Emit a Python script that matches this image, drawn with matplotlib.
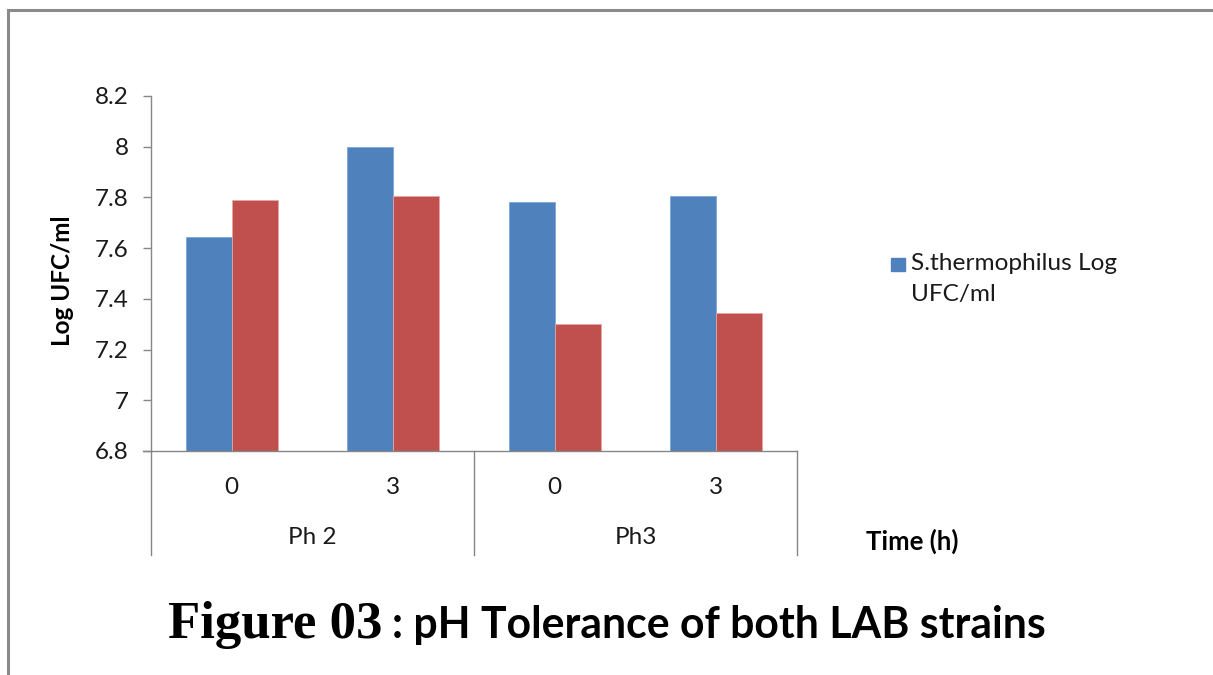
import matplotlib
matplotlib.use("Agg")
import matplotlib.pyplot as plt
from matplotlib.lines import Line2D
from matplotlib.patches import Rectangle
import numpy as np

# ---- data ----
time_labels = ["0", "3", "0", "3"]
ph_groups = ["Ph 2", "Ph3"]
s_thermo = [7.645, 8.0, 7.78, 7.805]
strain2 = [7.79, 7.805, 7.30, 7.345]
yticks = [6.8, 7.0, 7.2, 7.4, 7.6, 7.8, 8.0, 8.2]
ytick_labels = ["6.8", "7", "7.2", "7.4", "7.6", "7.8", "8", "8.2"]
legend_label = "S.thermophilus Log\nUFC/ml"

BLUE = "#4F81BD"
RED = "#C0504D"
GRAY = "#868686"
FONT = "Lato"

W, H = 1213, 675
fig = plt.figure(figsize=(W / 100, H / 100), dpi=100)
fig.patch.set_facecolor("white")

# axes placement in pixels
ax_l, ax_r, ax_t, ax_b = 151, 797, 96, 451
ax = fig.add_axes([ax_l / W, 1 - ax_b / H, (ax_r - ax_l) / W, (ax_b - ax_t) / H])

x = np.arange(len(time_labels))
bw = 0.285
ax.bar(x - bw / 2, s_thermo, width=bw, color=BLUE, edgecolor="#7EA6D8", linewidth=0.6,
       zorder=2, label=legend_label)
ax.bar(x + bw / 2, strain2, width=bw, color=RED, edgecolor="#E6A5A3", linewidth=0.6,
       zorder=2)
ax.set_xlim(-0.5, len(time_labels) - 0.5)
ax.set_ylim(6.8, 8.2)
ax.set_yticks(yticks)
ax.set_yticklabels(ytick_labels, fontsize=17.5, family=FONT, color="#1a1a1a")
ax.tick_params(axis="y", length=6, width=1, color=GRAY, direction="out", pad=10)
ax.set_xticks([])
for s in ["top", "right", "bottom"]:
    ax.spines[s].set_visible(False)
ax.spines["left"].set_color(GRAY)
ax.spines["left"].set_linewidth(1.0)

# category axis lines
trans = ax.get_xaxis_transform()
ylow = -(555 - 451) / (ax_b - ax_t)
ax.add_line(Line2D([-0.5 - 0.05, 3.5], [0, 0], transform=trans, color=GRAY, lw=1.0,
                   clip_on=False))
for xv in [-0.5, 1.5, 3.5]:
    ax.add_line(Line2D([xv, xv], [0, ylow], transform=trans, color=GRAY, lw=1.0,
                       clip_on=False))

y_time = -(487 - 451) / (ax_b - ax_t)
y_ph = -(538 - 451) / (ax_b - ax_t)
for xi, lab in zip(x, time_labels):
    ax.text(xi, y_time, lab, transform=trans, ha="center", va="center",
            fontsize=17.5, family=FONT, color="#1a1a1a")
for gi, lab in enumerate(ph_groups):
    ax.text(gi * 2 + 0.5, y_ph, lab, transform=trans, ha="center", va="center",
            fontsize=17.5, family=FONT, color="#1a1a1a")

# y label
fig.text(62 / W, 1 - 281 / H, "Log UFC/ml", rotation=90, ha="center", va="center",
         fontsize=17.5, fontweight="bold", family=FONT, color="black")
# x label
fig.text(866 / W, 1 - 541 / H, "Time (h)", ha="left", va="center",
         fontsize=18.5, fontweight="bold", family=FONT, color="black")

# legend (marker aligned with first line of a wrapped label)
fig.add_artist(Rectangle((891 / W, 1 - 271 / H), 14 / W, 13 / H,
                         transform=fig.transFigure, facecolor=BLUE, edgecolor=BLUE))
fig.text(911 / W, 1 - 253 / H, legend_label, ha="left", va="top",
         fontsize=17.6, family=FONT, color="#1a1a1a", linespacing=1.6)

# title
t1 = fig.text(168 / W, 1 - 625 / H, "Figure 03", ha="left", va="center",
              fontsize=38, fontweight="bold", family="Liberation Serif", color="black")
fig.canvas.draw()
bb = t1.get_window_extent()
fig.text((bb.x1 + 10) / W, 1 - 625 / H, ": pH Tolerance of both LAB strains",
         ha="left", va="center", fontsize=30.8, fontweight="bold", family=FONT,
         color="black")

# frame border (left and top)
fig.add_artist(Line2D([7.5 / W, 7.5 / W], [0, 1 - 10 / H], transform=fig.transFigure,
                      color="#8a8a8a", lw=2.2))
fig.add_artist(Line2D([7.5 / W, 1211 / W], [1 - 10 / H, 1 - 10 / H],
                      transform=fig.transFigure, color="#8a8a8a", lw=2.2))

fig.savefig("out.png", dpi=100, facecolor="white")
